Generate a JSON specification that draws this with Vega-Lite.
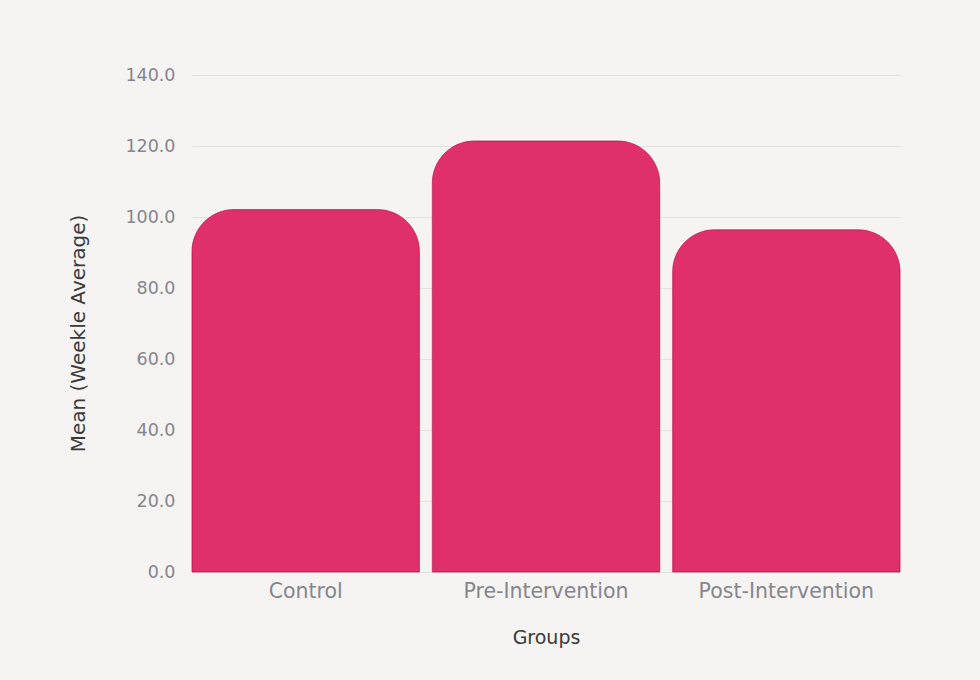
{
  "$schema": "https://vega.github.io/schema/vega-lite/v6.json",
  "description": "Mean weekly average by group",
  "width": 708,
  "height": 497,
  "autosize": {"type": "none"},
  "padding": {"left": 192, "top": 75, "right": 80, "bottom": 108},
  "background": "#f5f4f2",
  "data": {
    "values": [
      {"Group": "Control", "Mean": 102.1},
      {"Group": "Pre-Intervention", "Mean": 121.4},
      {"Group": "Post-Intervention", "Mean": 96.4}
    ]
  },
  "mark": {
    "type": "bar",
    "color": "#e0306b",
    "stroke": "#c41a58",
    "strokeWidth": 0.8,
    "cornerRadiusTopLeft": 42,
    "cornerRadiusTopRight": 42
  },
  "encoding": {
    "x": {
      "field": "Group",
      "type": "nominal",
      "sort": null,
      "title": "Groups",
      "scale": {"paddingInner": 0.054, "paddingOuter": 0},
      "axis": {
        "labelAngle": 0,
        "labelFontSize": 20.5,
        "domain": false,
        "ticks": false,
        "labelPadding": 9,
        "titlePadding": 27
      }
    },
    "y": {
      "field": "Mean",
      "type": "quantitative",
      "title": "Mean (Weekle Average)",
      "scale": {"domain": [0, 140]},
      "axis": {
        "values": [0, 20, 40, 60, 80, 100, 120, 140],
        "format": ".1f",
        "labelFontSize": 17.5,
        "domain": false,
        "ticks": false,
        "labelPadding": 17,
        "titlePadding": 36,
        "titleFontSize": 20,
        "titleY": 258
      }
    }
  },
  "config": {
    "view": {"stroke": null},
    "font": "DejaVu Sans",
    "axis": {
      "labelFont": "DejaVu Sans",
      "labelColor": "#85858d",
      "titleFont": "DejaVu Sans",
      "titleFontSize": 19,
      "titleFontWeight": "normal",
      "titleColor": "#3a3a3a",
      "gridColor": "#e2e1df",
      "gridWidth": 1
    }
  }
}
